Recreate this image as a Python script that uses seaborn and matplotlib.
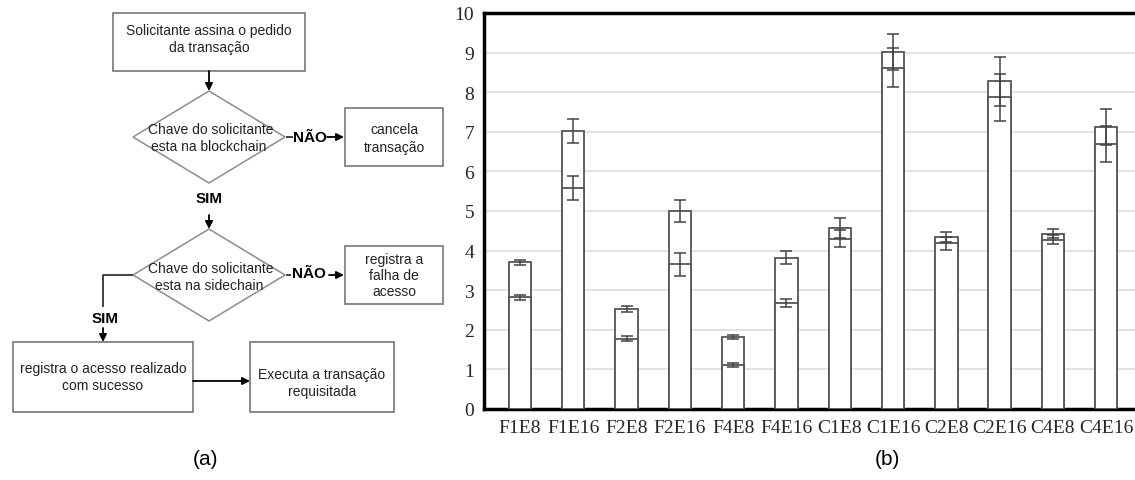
import numpy as np
import pandas as pd
import matplotlib
matplotlib.use("Agg")
import matplotlib.pyplot as plt
from matplotlib.patches import Rectangle, Polygon
import seaborn as sns

# ---------------- data ----------------
categories = ["F1E8", "F1E16", "F2E8", "F2E16", "F4E8", "F4E16",
              "C1E8", "C1E16", "C2E8", "C2E16", "C4E8", "C4E16"]
upper = [3.70, 7.02, 2.52, 5.00, 1.82, 3.82, 4.57, 9.02, 4.35, 8.28, 4.43, 7.12]
upper_err = [0.07, 0.31, 0.07, 0.28, 0.04, 0.16, 0.25, 0.45, 0.13, 0.62, 0.12, 0.45]
lower = [2.82, 5.58, 1.78, 3.65, 1.12, 2.68, 4.30, 8.62, 4.18, 7.87, 4.28, 6.70]
lower_err = [0.07, 0.30, 0.07, 0.28, 0.05, 0.10, 0.22, 0.50, 0.16, 0.60, 0.12, 0.45]
yticks = [0, 1, 2, 3, 4, 5, 6, 7, 8, 9, 10]

sns.set_style("white")
plt.rcParams["font.family"] = ["Liberation Sans", "DejaVu Sans"]

fig = plt.figure(figsize=(11.35, 4.81), dpi=100)

# ---------------- flowchart (pixel coordinates overlay) ----------------
ax0 = fig.add_axes([0, 0, 1, 1], zorder=0)
ax0.set_xlim(0, 1135)
ax0.set_ylim(481, 0)
ax0.axis("off")

box_ec = "#777777"
dia_ec = "#8c8c8c"
tfs = 10
fc = "#222222"


def box(x0, y0, x1, y1):
    ax0.add_patch(Rectangle((x0, y0), x1 - x0, y1 - y0, fill=False,
                            ec=box_ec, lw=1.2))


def diamond(cx, cy, hw, hh):
    ax0.add_patch(Polygon([(cx, cy - hh), (cx + hw, cy), (cx, cy + hh), (cx - hw, cy)],
                          closed=True, fill=False, ec=dia_ec, lw=1.1))


def arrow(p0, p1):
    ax0.annotate("", xy=p1, xytext=p0,
                 arrowprops=dict(arrowstyle="-|>", color="black", lw=1.3,
                                 mutation_scale=11, shrinkA=0, shrinkB=0))


def line(xs, ys):
    ax0.plot(xs, ys, color="#333333", lw=1.3, solid_capstyle="butt")


def txt(x, y, s, **kw):
    d = dict(ha="center", va="center", fontsize=tfs, color=fc)
    d.update(kw)
    ax0.text(x, y, s, **d)


# box 1
box(113, 14, 305, 72)
txt(209, 31, "Solicitante assina o pedido")
txt(209, 48, "da transação")
arrow((209, 72), (209, 92))

# diamond 1
diamond(209, 138, 76, 46)
txt(211, 130, "Chave do solicitante")
txt(209, 147, "esta na blockchain")
line([286, 293], [138, 138])
txt(310, 138, "NÃO", fontsize=11, fontweight="bold", color="black")
arrow((327, 138), (344, 138))
box(345, 109, 443, 167)
txt(394, 130, "cancela")
txt(394, 148, "transação")

txt(209, 199, "SIM", fontsize=11, fontweight="bold", color="black")
arrow((209, 216), (209, 230))

# diamond 2
diamond(209, 276, 76, 46)
txt(211, 269, "Chave do solicitante")
txt(209, 286, "esta na sidechain")
line([286, 291], [276, 276])
txt(309, 274, "NÃO", fontsize=11, fontweight="bold", color="black")
arrow((329, 276), (344, 276))
box(345, 247, 443, 305)
txt(394, 260, "registra a")
txt(394, 276, "falha de")
txt(394, 292, "acesso")

line([133, 103, 103], [276, 276, 308])
txt(105, 319, "SIM", fontsize=11, fontweight="bold", color="black")
arrow((103, 329), (103, 343))

box(13, 343, 193, 413)
txt(103, 369, "registra o acesso realizado")
txt(103, 386, "com sucesso")
arrow((193, 382), (250, 382))
box(250, 343, 394, 413)
txt(322, 375, "Executa a transação")
txt(322, 392, "requisitada")

txt(205, 460, "(a)", fontsize=15, color="black")
txt(887, 460, "(b)", fontsize=15, color="black")

# ---------------- bar chart ----------------
ax = fig.add_axes([484 / 1135, 71 / 481, (1135 - 484) / 1135, (410 - 14) / 481], zorder=1)
ax.patch.set_alpha(0)

df = pd.DataFrame({"cat": categories, "upper": upper, "lower": lower})
bar_kw = dict(color="white", edgecolor="#555555", linewidth=1.3, width=0.42,
              saturation=1, errorbar=None, ax=ax)
sns.barplot(data=df, x="cat", y="upper", zorder=2, **bar_kw)
sns.barplot(data=df, x="cat", y="lower", zorder=3, **bar_kw)

pos = np.arange(len(categories))
err_kw = dict(fmt="none", ecolor="#444444", elinewidth=1.1, capsize=4.5,
              capthick=1.1, zorder=4)
ax.errorbar(pos, upper, yerr=upper_err, **err_kw)
ax.errorbar(pos, lower, yerr=lower_err, **err_kw)

ax.set_xlim(-0.675, 11.54)
ax.set_ylim(0, 10)
ax.set_yticks(yticks)
ax.set_yticklabels([str(t) for t in yticks], family="Liberation Serif", fontsize=14)
ax.set_xticks(pos)
ax.set_xticklabels(categories, family="Liberation Serif", fontsize=14)
ax.tick_params(axis="both", length=0)
ax.tick_params(axis="y", pad=7)
ax.tick_params(axis="x", pad=7)
ax.set_xlabel("")
ax.set_ylabel("")
ax.set_axisbelow(True)
ax.yaxis.grid(True, color="#dddddd", lw=1.2)
ax.xaxis.grid(False)
for s in ["left", "bottom", "top"]:
    ax.spines[s].set_visible(True)
    ax.spines[s].set_color("black")
    ax.spines[s].set_linewidth(2.5)
ax.spines["right"].set_visible(False)

fig.savefig("out.png", dpi=100)
